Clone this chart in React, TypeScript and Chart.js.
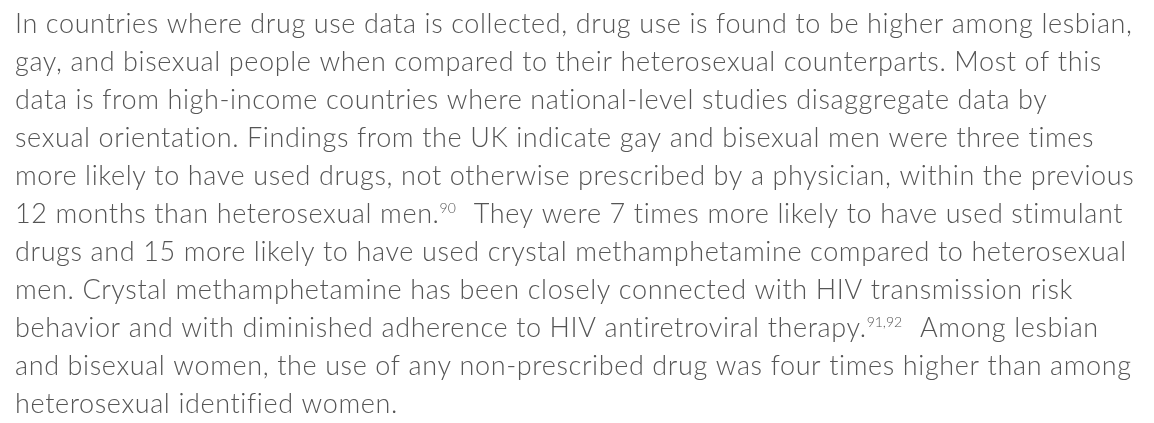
import React, { useEffect, useRef } from "react";
import { Chart, registerables } from "chart.js";

Chart.register(...registerables);

// Paragraph lines; ^...^ marks a superscript reference.
const lines: string[] = [
  "In countries where drug use data is collected, drug use is found to be higher among lesbian,",
  "gay, and bisexual people when compared to their heterosexual counterparts. Most of this",
  "data is from high-income countries where national-level studies disaggregate data by",
  "sexual orientation. Findings from the UK indicate gay and bisexual men were three times",
  "more likely to have used drugs, not otherwise prescribed by a physician, within the previous",
  "12 months than heterosexual men.^90^  They were 7 times more likely to have used stimulant",
  "drugs and 15 more likely to have used crystal methamphetamine compared to heterosexual",
  "men. Crystal methamphetamine has been closely connected with HIV transmission risk",
  "behavior and with diminished adherence to HIV antiretroviral therapy.^91,92^  Among lesbian",
  "and bisexual women, the use of any non-prescribed drug was four times higher than among",
  "heterosexual identified women.",
];

const FONT_FAMILY = "Lato, 'Open Sans', 'Noto Sans', sans-serif";
const TEXT_COLOR = "#555555";

const paragraphPlugin = {
  id: "paragraph",
  afterDraw(chart: any) {
    const ctx: CanvasRenderingContext2D = chart.ctx;
    const left = 15;
    const firstBaseline = 33;
    const lineHeight = 38;
    const size = 27;
    const targetWidth = 1117;
    ctx.save();
    ctx.fillStyle = TEXT_COLOR;
    ctx.textBaseline = "alphabetic";
    ctx.textAlign = "left";
    const mainFont = `300 ${size}px ${FONT_FAMILY}`;
    const supFont = `300 ${Math.round(size * 0.52)}px ${FONT_FAMILY}`;
    ctx.font = mainFont;
    (ctx as any).letterSpacing = "0px";
    const w0 = ctx.measureText(lines[0]).width;
    const ls = Math.max(-1, Math.min(3, (targetWidth - w0) / (lines[0].length - 1)));
    lines.forEach((line, i) => {
      const y = firstBaseline + i * lineHeight;
      let x = left;
      const parts = line.split("^");
      parts.forEach((part, j) => {
        const sup = j % 2 === 1;
        ctx.font = sup ? supFont : mainFont;
        (ctx as any).letterSpacing = sup ? "0px" : `${ls}px`;
        const yy = sup ? y - 10 : y;
        ctx.fillText(part, x, yy);
        x += ctx.measureText(part).width + (sup ? 2 : 0);
      });
    });
    ctx.restore();
  },
};

export default function App() {
  const ref = useRef<HTMLCanvasElement | null>(null);
  useEffect(() => {
    document.body.style.margin = "0";
    document.body.style.background = "#ffffff";
    if (!ref.current) return;
    const chart = new Chart(ref.current, {
      type: "bar",
      data: { labels: [], datasets: [] },
      options: {
        animation: false,
        responsive: false,
        events: [],
        layout: { padding: 0 },
        plugins: {
          legend: { display: false },
          title: { display: false },
          tooltip: { enabled: false },
        },
        scales: {
          x: { display: false },
          y: { display: false },
        },
      },
      plugins: [paragraphPlugin],
    });
    return () => chart.destroy();
  }, []);
  return (
    <div style={{ width: 1154, height: 423, background: "#fff" }}>
      <canvas ref={ref} width={1154} height={423} style={{ display: "block" }} />
    </div>
  );
}
